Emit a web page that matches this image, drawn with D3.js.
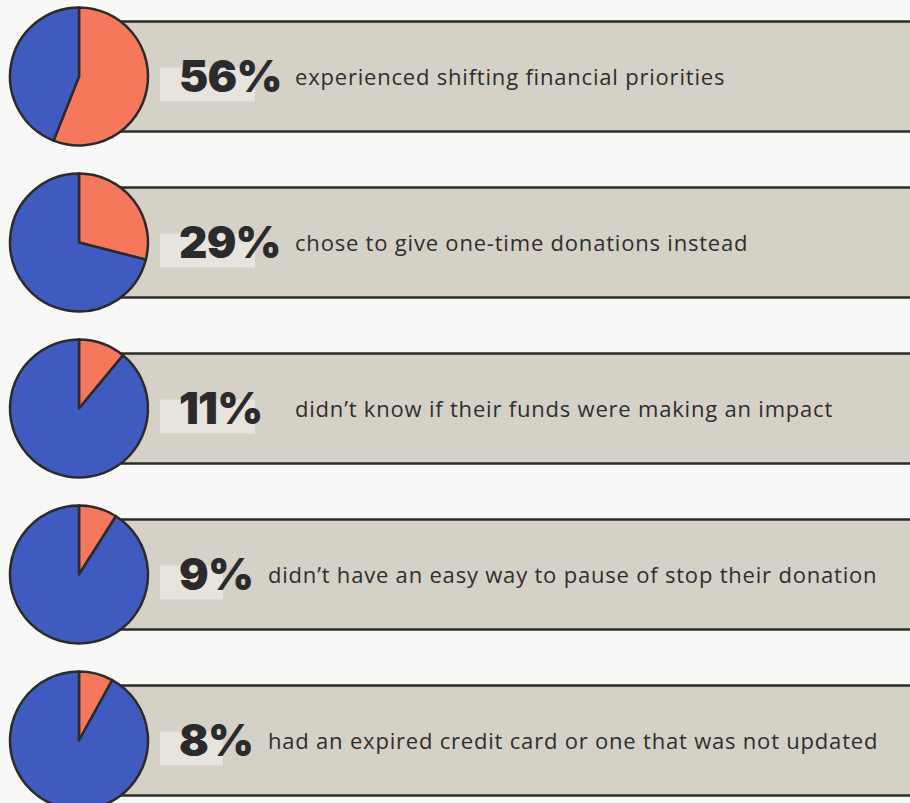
<!DOCTYPE html>
<html>
<head>
<meta charset="utf-8">
<script src="https://d3js.org/d3.v7.min.js"></script>
<style>
  body { margin:0; background:#f8f8f6; }
  svg { display:block; }
</style>
</head>
<body>
<script>
// data
const percents = [56, 29, 11, 9, 8];
const labels = [
  "experienced shifting financial priorities",
  "chose to give one-time donations instead",
  "didn\u2019t know if their funds were making an impact",
  "didn\u2019t have an easy way to pause of stop their donation",
  "had an expired credit card or one that was not updated"
];

const width = 910, height = 803;
const r = 69;
const cx = 79;
const rowY = d3.scalePoint().domain(d3.range(percents.length)).range([76.5, 740.5]);

const svg = d3.select("body").append("svg")
  .attr("width", width).attr("height", height);

const rows = svg.selectAll("g.row")
  .data(percents.map((p, i) => ({ p, label: labels[i] })))
  .enter().append("g")
  .attr("class", "row")
  .attr("transform", (d, i) => `translate(0,${rowY(i)})`);

// band
rows.append("rect")
  .attr("x", cx).attr("y", -55)
  .attr("width", width).attr("height", 110)
  .attr("fill", "#d5d1c6")
  .attr("stroke", "#2b2b2b").attr("stroke-width", 2.5);

// pie
const pie = d3.pie().sort(null).value(v => v);
const arc = d3.arc().innerRadius(0).outerRadius(r);
rows.append("g")
  .attr("transform", `translate(${cx},0)`)
  .selectAll("path")
  .data(d => pie([d.p, 100 - d.p]))
  .enter().append("path")
  .attr("d", arc)
  .attr("fill", (d, i) => i === 0 ? "#f5775c" : "#3f5bbf")
  .attr("stroke", "#2b2b2b").attr("stroke-width", 2.5)
  .attr("stroke-linejoin", "round");

// highlight box behind number
rows.append("rect")
  .attr("x", 160).attr("y", -9)
  .attr("width", d => d.p >= 10 ? 95 : 63)
  .attr("height", 34)
  .attr("fill", "#e7e4dd");

rows.append("text")
  .attr("x", 179).attr("y", 15)
  .attr("font-family", "Inter, sans-serif")
  .attr("font-weight", 900)
  .attr("font-size", 44)
  .attr("letter-spacing", -0.8)
  .attr("fill", "#2b2b2d")
  .text(d => d.p + "%");

rows.append("text")
  .attr("x", d => d.p >= 10 ? 295 : 268)
  .attr("y", 8)
  .attr("font-family", "'Open Sans', sans-serif")
  .attr("font-size", 22)
  .attr("letter-spacing", 0.8)
  .attr("fill", "#2e2e2e")
  .text(d => d.label);
</script>
</body>
</html>
